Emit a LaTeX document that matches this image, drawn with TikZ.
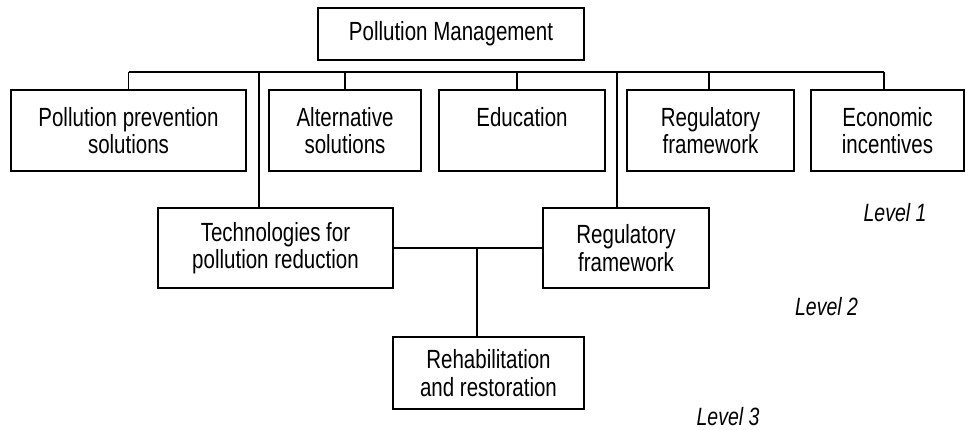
\documentclass[tikz,border=0pt]{standalone}
\usepackage{fontspec}
\setmainfont{Liberation Sans}[FakeStretch=0.78]
\begin{document}
\begin{tikzpicture}[x=1pt,y=-1pt,
  box/.style={draw,line width=1.3pt,rectangle,inner sep=0pt,align=center,
    font=\fontsize{26.3}{27.6}\selectfont},
  lvl/.style={anchor=base,inner sep=0pt,font=\fontsize{25}{26}\selectfont\itshape}]
\useasboundingbox (0,0) rectangle (966,429);
\node[box,minimum width=266pt,minimum height=52pt] (top) at (451,34) {Pollution Management};
\node[box,minimum width=235pt,minimum height=81pt] (b1) at (128.5,130.5) {Pollution prevention\\solutions};
\node[box,minimum width=152pt,minimum height=81pt] (b2) at (345,130.5) {Alternative\\solutions};
\node[box,minimum width=166pt,minimum height=81pt] (b3) at (522,130.5) {Education\\\mbox{}};
\node[box,minimum width=167pt,minimum height=81pt] (b4) at (710.5,130.5) {Regulatory\\framework};
\node[box,minimum width=153pt,minimum height=81pt] (b5) at (887.5,130.5) {Economic\\incentives};
\node[box,minimum width=235pt,minimum height=80pt] (tech) at (275.5,248) {Technologies for\\pollution reduction};
\node[box,minimum width=166pt,minimum height=80pt] (reg) at (626,248) {Regulatory\\framework};
\node[box,minimum width=191pt,minimum height=72pt] (reh) at (488.5,373) {Rehabilitation\\and restoration};
\node[lvl] (l1) at (895,221) {Level 1};
\node[lvl] (l2) at (826.5,315) {Level 2};
\node[lvl] (l3) at (728,425) {Level 3};
\coordinate (busL) at (128.5,72);
\coordinate (busR) at (884,72);
\coordinate (j) at (477,248);
\begin{scope}[line width=1.3pt]
\draw (busL) -- (busR);
\draw (b1.north) -- (b1.north |- busL);
\draw (b2.north) -- (b2.north |- busL);
\draw ([xshift=-5pt]b3.north) -- ([xshift=-5pt]b3.north |- busL);
\draw ([xshift=-1.5pt]b4.north) -- ([xshift=-1.5pt]b4.north |- busL);
\draw ([xshift=-3.5pt]b5.north) -- ([xshift=-3.5pt]b5.north |- busL);
\draw ([xshift=-16.5pt]tech.north) -- ([xshift=-16.5pt]tech.north |- busL);
\draw ([xshift=-9pt]reg.north) -- ([xshift=-9pt]reg.north |- busL);
\draw (tech.east) -- (reg.west);
\draw (j) -- (j |- reh.north);
\end{scope}
\end{tikzpicture}
\end{document}
